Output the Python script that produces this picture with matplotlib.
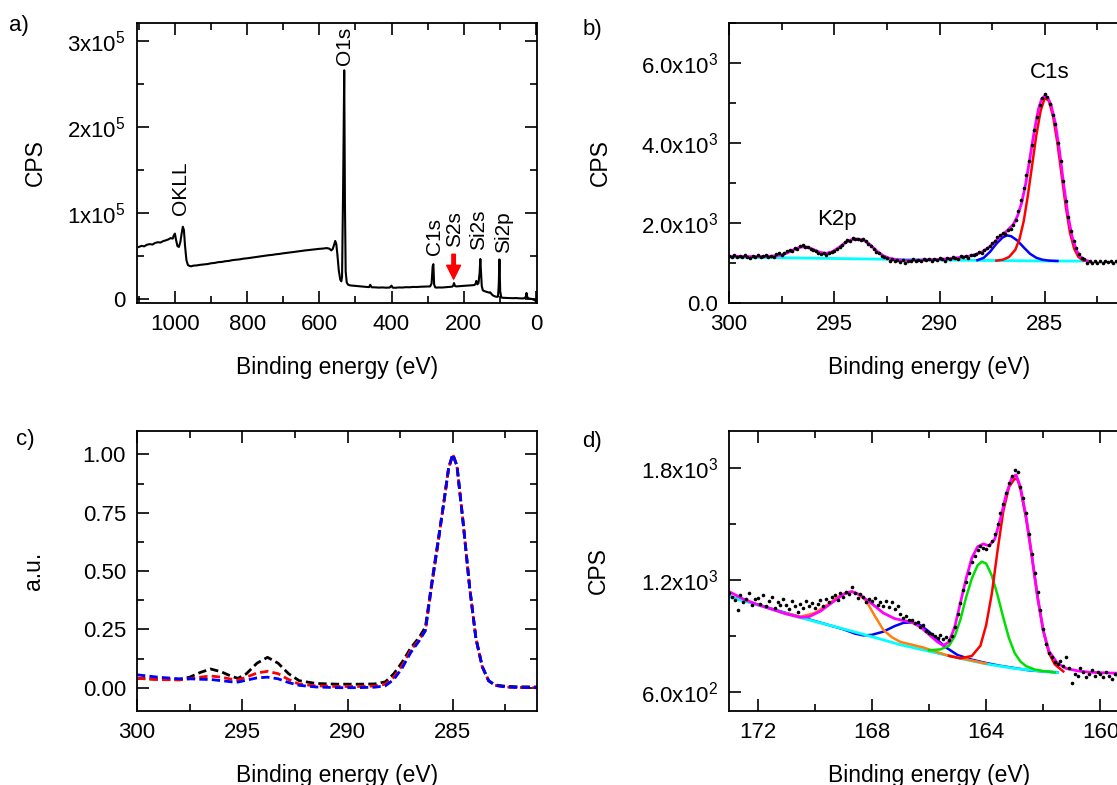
import numpy as np
import matplotlib
matplotlib.use("Agg")
import matplotlib.pyplot as plt
from matplotlib.ticker import MultipleLocator

plt.rcParams['font.family'] = ['Liberation Sans', 'DejaVu Sans']
plt.rcParams['mathtext.default'] = 'regular'

# ---- a) survey spectrum ----
a_energy = [1100, 1092, 1085, 1078, 1070, 1062, 1055, 1047, 1040, 1032,
            1025, 1018, 1012, 1006, 1003, 1000, 997, 993, 989, 985,
            981, 978, 975, 972, 968, 964, 960, 955, 948, 940,
            930, 920, 910, 900, 890, 880, 870, 860, 850, 840,
            830, 820, 810, 800, 790, 780, 770, 760, 750, 740,
            730, 720, 710, 700, 690, 680, 670, 660, 650, 640,
            630, 620, 610, 600, 590, 580, 572, 567, 563, 559,
            556, 553, 550, 546, 542, 539, 537, 534, 531, 529,
            527, 524, 520, 515, 508, 500, 490, 480, 470, 462,
            459, 455, 445, 435, 425, 415, 405, 400, 397, 390,
            380, 370, 360, 350, 340, 330, 320, 310, 300, 293,
            289, 286, 284, 282, 279, 275, 268, 260, 252, 245,
            238, 232, 229, 227, 224, 220, 212, 205, 198, 190,
            182, 175, 170, 167, 165, 162, 159, 156, 154, 152,
            150, 147, 143, 139, 134, 130, 127, 124, 121, 117,
            112, 108, 105, 103, 101, 99, 96, 92, 85, 78,
            70, 62, 55, 48, 42, 36, 32, 28, 26, 24,
            22, 19, 15, 11, 7, 3, 0]
a_cps = [60500, 61800, 61200, 63000, 63800, 63300, 65200, 66000, 65600, 67400,
         68200, 69300, 70800, 70200, 74000, 76000, 69000, 61500, 60500, 66000,
         77000, 84000, 80000, 62000, 45000, 39500, 38500, 38000, 38800, 39000,
         39700, 40200, 40600, 41500, 41900, 42800, 43100, 43900, 44300, 45200,
         45600, 46100, 46900, 47300, 47900, 48600, 49000, 49800, 50200, 50900,
         51300, 52000, 52400, 53100, 53600, 54200, 54700, 55300, 55800, 56400,
         56900, 57300, 57800, 58300, 58600, 59200, 58500, 56500, 58000, 63000,
         67500, 64000, 52000, 33000, 22500, 20500, 26000, 130000, 266000, 110000,
         32000, 19000, 16500, 15800, 15500, 15200, 14800, 14300, 14000, 13800,
         16500, 13600, 13500, 13200, 13400, 13100, 13300, 15500, 13200, 13000,
         13400, 13300, 13700, 13600, 14000, 13900, 14200, 14300, 14500, 14600,
         18000, 38000, 40500, 17000, 13500, 13200, 13400, 13300, 13600, 13900,
         14000, 14300, 15500, 18500, 15000, 14600, 14800, 15100, 15300, 15600,
         15800, 16000, 16300, 18000, 21000, 17000, 18500, 30000, 46500, 30000,
         15000, 10000, 9200, 8600, 8000, 7400, 7800, 6200, 4800, 3600,
         2800, 2500, 2700, 16000, 46000, 9000, 1800, 1400, 1200, 1100,
         1000, 900, 1100, 800, 700, 600, 900, 2500, 7000, 2500,
         800, 500, 300, 0, -800, -1500, -2500]
a_peak_names = ['OKLL', 'O1s', 'C1s', 'S2s', 'Si2s', 'Si2p']
a_peak_x = [985, 530, 281, 225, 158, 89]
a_peak_y = [98000, 272000, 51000, 60000, 57000, 53000]
a_yticks = [0, 1e5, 2e5, 3e5]
a_ylabels = ['0', '1x10$^5$', '2x10$^5$', '3x10$^5$']

# ---- b) C1s region ----
b_counts = [1180, 1160, 1200, 1150, 1170, 1140, 1190, 1160,
            1130, 1180, 1150, 1200, 1140, 1170, 1190, 1150,
            1180, 1160, 1220, 1250, 1200, 1260, 1300, 1330,
            1310, 1380, 1350, 1420, 1460, 1390, 1400, 1350,
            1330, 1300, 1260, 1230, 1250, 1200, 1240, 1280,
            1300, 1360, 1400, 1460, 1530, 1580, 1550, 1620,
            1590, 1600, 1570, 1610, 1540, 1480, 1420, 1350,
            1280, 1240, 1180, 1150, 1120, 1060, 1090, 1040,
            1080, 1030, 1070, 1000, 1060, 1050, 1090, 1040,
            1080, 1060, 1100, 1070, 1090, 1050, 1110, 1080,
            1120, 1090, 1060, 1130, 1100, 1150, 1120, 1090,
            1170, 1140, 1180, 1130, 1200, 1190, 1230, 1270,
            1240, 1320, 1380, 1430, 1500, 1560, 1640, 1700,
            1760, 1720, 1830, 1850, 1950, 2080, 2300, 2580,
            2870, 3200, 3560, 3950, 4330, 4650, 4950, 5120,
            5220, 5150, 4980, 4700, 4480, 4000, 3560, 3050,
            2560, 2150, 1800, 1560, 1370, 1220, 1130, 1090,
            990, 1050, 1010, 1060, 1000, 1040, 990, 1050,
            1020, 1060, 1000, 1040, 1020, 1070, 1010, 1050,
            1030]
b_energy = np.linspace(300, 281, len(b_counts))

b_env_energy = [300, 299.5, 299, 298.5, 298, 297.5, 297.2, 296.9, 296.6, 296.3,
                296.0, 295.7, 295.4, 295.1, 294.8, 294.5, 294.2, 293.9, 293.6, 293.3,
                293.0, 292.7, 292.4, 292.0, 291.5, 291.0, 290.5, 290.0, 289.5, 289.0,
                288.6, 288.3, 288.0, 287.7, 287.4, 287.1, 286.8, 286.5, 286.3, 286.1,
                285.9, 285.7, 285.5, 285.3, 285.15, 285.0, 284.85, 284.7, 284.5, 284.3,
                284.1, 283.9, 283.7, 283.5, 283.3, 283.1, 282.9]
b_env_cps = [1170, 1165, 1160, 1160, 1170, 1200, 1260, 1340, 1400, 1400,
             1340, 1270, 1240, 1280, 1380, 1500, 1580, 1600, 1570, 1460,
             1310, 1190, 1120, 1080, 1065, 1070, 1080, 1090, 1110, 1140,
             1170, 1210, 1270, 1370, 1510, 1670, 1800, 1960, 2170, 2500,
             3000, 3650, 4300, 4850, 5100, 5180, 5120, 4950, 4500, 3800,
             2950, 2200, 1650, 1320, 1150, 1070, 1045]
b_red_energy = [287.3, 287.0, 286.7, 286.4, 286.2, 286.0, 285.8, 285.6, 285.4, 285.2,
                285.0, 284.8, 284.6, 284.4, 284.2, 284.0, 283.8, 283.6, 283.4, 283.2, 283.0]
b_red_cps = [1060, 1080, 1150, 1330, 1600, 2050, 2700, 3450, 4200, 4800,
             5130, 5050, 4650, 4000, 3200, 2400, 1750, 1350, 1150, 1070, 1045]
b_blue_energy = [288.2, 287.9, 287.6, 287.3, 287.0, 286.8, 286.6, 286.3, 286.0, 285.7,
                 285.4, 285.1, 284.8, 284.4]
b_blue_cps = [1070, 1130, 1280, 1480, 1640, 1690, 1670, 1560, 1390, 1230,
              1130, 1080, 1060, 1050]
b_bg_energy = [300, 298, 296, 294, 292, 290, 288, 287, 286, 285, 284, 283.2]
b_bg_cps = [1145, 1135, 1120, 1105, 1090, 1075, 1065, 1060, 1055, 1050, 1048, 1048]
b_yticks = [0, 2000, 4000, 6000]
b_ylabels = ['0.0', '2.0x10$^3$', '4.0x10$^3$', '6.0x10$^3$']

# ---- c) normalised C1s comparison ----
c_energy = [300, 299, 298, 297.5, 297, 296.5, 296, 295.5, 295.2, 294.8,
            294.3, 293.8, 293.3, 292.8, 292.3, 291.5, 290.5, 289.5, 288.7, 288.2,
            287.8, 287.4, 287.0, 286.6, 286.3, 286.0, 285.7, 285.4, 285.2, 285.0,
            284.8, 284.5, 284.2, 283.9, 283.6, 283.3, 283.0, 282.5, 282, 281]
c_black = [0.040, 0.036, 0.035, 0.045, 0.065, 0.080, 0.068, 0.048, 0.040, 0.060,
           0.105, 0.130, 0.105, 0.060, 0.030, 0.018, 0.015, 0.015, 0.016, 0.025,
           0.060, 0.110, 0.170, 0.215, 0.260, 0.450, 0.630, 0.810, 0.940, 1.000,
           0.950, 0.700, 0.430, 0.210, 0.090, 0.030, 0.012, 0.006, 0.004, 0.003]
c_red = [0.040, 0.035, 0.033, 0.038, 0.045, 0.050, 0.045, 0.036, 0.033, 0.045,
         0.063, 0.070, 0.060, 0.035, 0.015, 0.008, 0.005, 0.005, 0.007, 0.015,
         0.045, 0.095, 0.160, 0.205, 0.245, 0.440, 0.620, 0.810, 0.940, 1.000,
         0.950, 0.700, 0.430, 0.210, 0.090, 0.030, 0.010, 0.003, 0.001, 0.000]
c_blue = [0.055, 0.045, 0.038, 0.038, 0.036, 0.035, 0.030, 0.025, 0.024, 0.032,
          0.042, 0.045, 0.038, 0.022, 0.010, 0.003, 0.000, 0.000, 0.002, 0.008,
          0.035, 0.085, 0.150, 0.200, 0.245, 0.440, 0.620, 0.810, 0.940, 1.000,
          0.950, 0.700, 0.430, 0.210, 0.090, 0.030, 0.010, 0.003, 0.001, 0.000]
c_yticks = [0.0, 0.25, 0.5, 0.75, 1.0]
c_ylabels = ['0.00', '0.25', '0.50', '0.75', '1.00']

# ---- d) S2p region ----
d_counts = [1130, 1110, 1095, 1040, 1120, 1085, 1100, 1130, 1070, 1100,
            1105, 1075, 1120, 1060, 1090, 1110, 1050, 1085, 1070, 1100,
            1070, 1045, 1090, 1060, 1030, 1075, 1050, 1090, 1060, 1080,
            1050, 1075, 1095, 1060, 1100, 1085, 1110, 1120, 1095, 1130,
            1110, 1140, 1125, 1165, 1130, 1105, 1125, 1110, 1085, 1100,
            1090, 1105, 1070, 1085, 1065, 1090, 1055, 1085, 1045, 1060,
            1020, 1000, 1010, 985, 990, 970, 975, 950, 960, 930,
            920, 910, 900, 890, 905, 885, 895, 880, 900, 950,
            1020, 1080, 1150, 1190, 1240, 1300, 1330, 1360, 1385, 1375,
            1370, 1390, 1410, 1450, 1500, 1560, 1610, 1670, 1720, 1760,
            1790, 1780, 1700, 1640, 1560, 1450, 1340, 1240, 1140, 1040,
            940, 860, 810, 790, 760, 750, 770, 740, 790, 730,
            650, 700, 690, 730, 710, 680, 700, 720, 690, 710,
            700, 680, 710, 690, 670, 700, 690, 720, 680, 700]
d_energy = np.linspace(173.0, 159.1, len(d_counts))

d_env_energy = [173, 172.5, 172, 171.5, 171, 170.5, 170.2, 169.8, 169.4, 169.0,
                168.7, 168.4, 168.0, 167.6, 167.2, 166.9, 166.6, 166.3, 166.0, 165.7,
                165.5, 165.3, 165.1, 164.9, 164.7, 164.5, 164.3, 164.1, 163.9, 163.7,
                163.5, 163.3, 163.1, 162.95, 162.8, 162.6, 162.4, 162.2, 162.0, 161.8,
                161.5, 161.2, 160.8, 160.4, 160.0, 159.5, 159.0]
d_env_cps = [1140, 1100, 1070, 1045, 1020, 1002, 1005, 1035, 1080, 1125,
             1140, 1120, 1075, 1025, 995, 985, 975, 950, 910, 870,
             850, 870, 950, 1080, 1210, 1320, 1380, 1395, 1385, 1420,
             1530, 1660, 1750, 1765, 1700, 1540, 1330, 1110, 930, 820,
             755, 728, 715, 708, 705, 703, 702]
d_bg_energy = [173, 172, 171, 170.5, 170, 169, 168, 167, 166, 165, 164, 163, 162, 161.5]
d_bg_cps = [1113, 1068, 1022, 1000, 980, 940, 898, 855, 820, 785, 752, 728, 712, 706]
d_blue_energy = [173, 172, 171, 170, 169.5, 169.0, 168.6, 168.3, 168.0, 167.6,
                 167.2, 166.9, 166.6, 166.3, 166.0, 165.7, 165.4, 165.0, 164.5, 164.0,
                 163.5, 163.0, 162.5, 162, 161.5]
d_blue_cps = [1115, 1070, 1025, 982, 960, 938, 915, 905, 908, 925,
              955, 972, 975, 960, 925, 880, 840, 800, 775, 757,
              742, 730, 718, 712, 707]
d_orange_energy = [171, 170.5, 170, 169.5, 169.2, 168.9, 168.7, 168.5, 168.2, 167.9,
                   167.6, 167.3, 167.0, 166.6, 166.2, 165.8, 165.4, 165.0, 164.5, 164.0]
d_orange_cps = [1023, 1005, 1025, 1075, 1110, 1135, 1140, 1130, 1090, 1010,
                935, 895, 870, 855, 840, 820, 800, 787, 770, 754]
d_green_energy = [166.0, 165.6, 165.3, 165.1, 164.9, 164.7, 164.5, 164.3, 164.15, 164.0,
                  163.8, 163.6, 163.4, 163.2, 163.0, 162.8, 162.6, 162.3, 162.0, 161.6]
d_green_cps = [825, 830, 850, 900, 990, 1110, 1210, 1280, 1300, 1290,
               1225, 1120, 1000, 890, 810, 765, 740, 722, 714, 707]
d_red_energy = [165.3, 164.9, 164.5, 164.2, 164.0, 163.8, 163.6, 163.4, 163.2, 163.0,
                162.9, 162.8, 162.6, 162.4, 162.2, 162.0, 161.8, 161.6, 161.3]
d_red_cps = [795, 782, 795, 850, 960, 1130, 1360, 1570, 1700, 1745,
             1740, 1690, 1530, 1330, 1110, 930, 810, 750, 712]
d_yticks = [600, 1200, 1800]
d_ylabels = ['6.0x10$^2$', '1.2x10$^3$', '1.8x10$^3$']

W, H = 1117, 785
fig = plt.figure(figsize=(W / 100, H / 100), dpi=100)


def add_axes(left, top, width=400, height=280):
    return fig.add_axes([left / W, (H - top - height) / H, width / W, height / H])


def style(ax, ylab, ylx):
    ax.tick_params(which='both', direction='in', top=True, right=True,
                   labelsize=16, width=1.2, pad=8)
    ax.tick_params(which='major', length=8.5)
    ax.tick_params(which='minor', length=5)
    for s in ax.spines.values():
        s.set_linewidth(1.3)
    ax.set_xlabel('Binding energy (eV)', fontsize=16.5)
    ax.xaxis.set_label_coords(0.5, -0.19)
    ax.set_ylabel(ylab, fontsize=16.5)
    ax.yaxis.set_label_coords(ylx, 0.5)


ax_a = add_axes(137, 23)
ax_b = add_axes(729, 23)
ax_c = add_axes(137, 431)
ax_d = add_axes(729, 431)

# a)
ax_a.plot(a_energy, a_cps, color='black', lw=1.5)
for name, x, y in zip(a_peak_names, a_peak_x, a_peak_y):
    ax_a.text(x, y, name, rotation=90, ha='center', va='bottom', fontsize=15)
ax_a.annotate('', xy=(228, 23000), xytext=(228, 52000),
              arrowprops=dict(color='red', width=2.5, headwidth=10, headlength=10, shrink=0))
ax_a.set_xlim(1105, -3)
ax_a.set_ylim(-4700, 321000)
ax_a.xaxis.set_major_locator(MultipleLocator(200))
ax_a.xaxis.set_minor_locator(MultipleLocator(100))
ax_a.set_yticks(a_yticks, a_ylabels)
ax_a.yaxis.set_minor_locator(MultipleLocator(50000))
style(ax_a, 'CPS', -0.225)

# b)
ax_b.plot(b_bg_energy, b_bg_cps, color='#00ffff', lw=2)
ax_b.plot(b_blue_energy, b_blue_cps, color='#0000ff', lw=1.8)
ax_b.plot(b_red_energy, b_red_cps, color='#ff0000', lw=1.8)
ax_b.plot(b_env_energy, b_env_cps, color='#ff00ff', lw=2)
ax_b.plot(b_energy, b_counts, 'o', color='black', ms=2.6, mew=0)
ax_b.text(284.76, 5750, 'C1s', ha='center', va='center', fontsize=16)
ax_b.text(294.86, 2100, 'K2p', ha='center', va='center', fontsize=16)
ax_b.set_xlim(300, 281)
ax_b.set_ylim(0, 7000)
ax_b.xaxis.set_major_locator(MultipleLocator(5))
ax_b.xaxis.set_minor_locator(MultipleLocator(2.5))
ax_b.set_yticks(b_yticks, b_ylabels)
ax_b.yaxis.set_minor_locator(MultipleLocator(1000))
style(ax_b, 'CPS', -0.2925)

# c)
for vals, col in zip([c_black, c_red, c_blue], ['black', '#ff0000', '#0000ff']):
    ax_c.plot(c_energy, vals, color=col, lw=2, ls=(0, (3, 1.5)))
ax_c.set_xlim(300, 281)
ax_c.set_ylim(-0.1, 1.1)
ax_c.xaxis.set_major_locator(MultipleLocator(5))
ax_c.xaxis.set_minor_locator(MultipleLocator(2.5))
ax_c.set_yticks(c_yticks, c_ylabels)
ax_c.yaxis.set_minor_locator(MultipleLocator(0.125))
style(ax_c, 'a.u.', -0.23)

# d)
ax_d.plot(d_blue_energy, d_blue_cps, color='#0000ff', lw=1.8)
ax_d.plot(d_bg_energy, d_bg_cps, color='#00ffff', lw=2)
ax_d.plot(d_orange_energy, d_orange_cps, color='#ff7f0e', lw=1.8)
ax_d.plot(d_green_energy, d_green_cps, color='#00e000', lw=1.8)
ax_d.plot(d_red_energy, d_red_cps, color='#ff0000', lw=1.8)
ax_d.plot(d_env_energy, d_env_cps, color='#ff00ff', lw=2)
ax_d.plot(d_energy, d_counts, 'o', color='black', ms=2.6, mew=0)
ax_d.set_xlim(173, 159)
ax_d.set_ylim(500, 2000)
ax_d.xaxis.set_major_locator(MultipleLocator(4))
ax_d.xaxis.set_minor_locator(MultipleLocator(2))
ax_d.set_yticks(d_yticks, d_ylabels)
ax_d.yaxis.set_minor_locator(MultipleLocator(300))
style(ax_d, 'CPS', -0.2975)

for lab, x, y in [('a)', 19, 25), ('b)', 592, 30), ('c)', 25, 440), ('d)', 592, 442)]:
    fig.text(x / W, 1 - y / H, lab, ha='center', va='center', fontsize=16)

fig.savefig('out.png', dpi=100)
